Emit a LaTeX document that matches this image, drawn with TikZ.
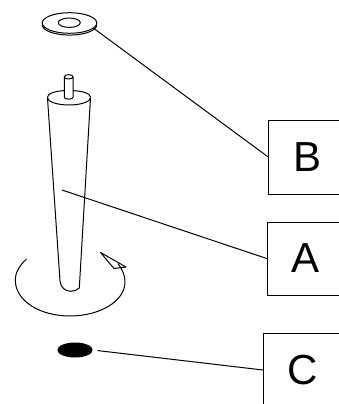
\documentclass[tikz,border=0pt]{standalone}
\usepackage{fontspec}
\setmainfont{Liberation Sans}
\usetikzlibrary{shapes.geometric}
\tikzset{
  ln/.style={line width=1pt,black,line join=round},
  box/.style={draw,line width=1pt,rectangle,inner sep=0pt,outer sep=0pt,anchor=north west},
  lab/.style={inner sep=0pt,font=\fontsize{42}{42}\selectfont},
  part/.style={ellipse,inner sep=0pt,outer sep=0pt,minimum width=#1}
}
\begin{document}
\begin{tikzpicture}[x=1pt,y=-1pt]
\useasboundingbox (0,0) rectangle (339,404);
% boxes run past the right edge of the page
\node[box,minimum width=90pt,minimum height=74.7pt] (boxB) at (268.7,120) {};
\node[box,minimum width=90pt,minimum height=72.3pt] (boxA) at (267.7,222.7) {};
\node[box,minimum width=90pt,minimum height=72.6pt] (boxC) at (263,333.7) {};
\node[lab] (labB) at (307.3,156.8) {B};
\node[lab] (labA) at (305.5,258.5) {A};
\node[lab] (labC) at (303,370.5) {C};
% washer (y runs downward here, so angles 0 to 180 are the lower half)
\draw[ln] (42.2,24.8) arc[start angle=180,end angle=0,x radius=27.3,y radius=10.3];
\node[part=54.6pt,draw,ln,minimum height=20.6pt,fill=white] (washer) at (69.5,23) {};
\node[part=22pt,draw,ln,minimum height=9.4pt] (hole) at (69.3,22.7) {};
% leg: rim, with the pin standing in front of it
\draw[ln] (47.3,97.5) arc[start angle=180,end angle=0,x radius=21.7,y radius=7.5];
\draw[ln] (64.3,90.6) .. controls (57,91) and (47.3,93) .. (47.3,97.5);
\draw[ln] (73,90.6) .. controls (81,91) and (90.7,93) .. (90.7,97.5);
\draw[ln] (47.5,98) -- (60,281) .. controls (60.5,288) and (66,291.3) .. (71,291.3) .. controls (74,291.3) and (77,290) .. (79.3,288) -- (90.5,98);
% pin
\draw[ln] (64.3,97.5) -- (64.3,77) arc[start angle=180,end angle=360,x radius=4.35,y radius=2.4] -- (73,97.5) arc[start angle=0,end angle=180,x radius=4.35,y radius=1.6];
\draw[ln] (64.3,77) arc[start angle=180,end angle=0,x radius=4.35,y radius=2];
% sweep arrow
\draw[ln] (26.5,259) .. controls (20,265) and (15.3,272) .. (15.3,280) .. controls (15.3,301) and (40,316) .. (70,316) .. controls (100,316) and (125,301) .. (125,282) .. controls (125,275) and (122,269) .. (118,263.5);
\draw[ln] (100.5,252.5) -- (126,267) -- (114,268.5) -- cycle;
% foot pad
\node[part=35.4pt,fill=black,minimum height=15pt] (pad) at (75,350) {};
% connectors
\coordinate (legpt) at (62,190);
\draw[ln] (washer.-12) -- (boxB.west);
\draw[ln] (legpt) -- (boxA.west);
\draw[ln,shorten <=5pt] (pad.east) -- (boxC.west);
\end{tikzpicture}
\end{document}
